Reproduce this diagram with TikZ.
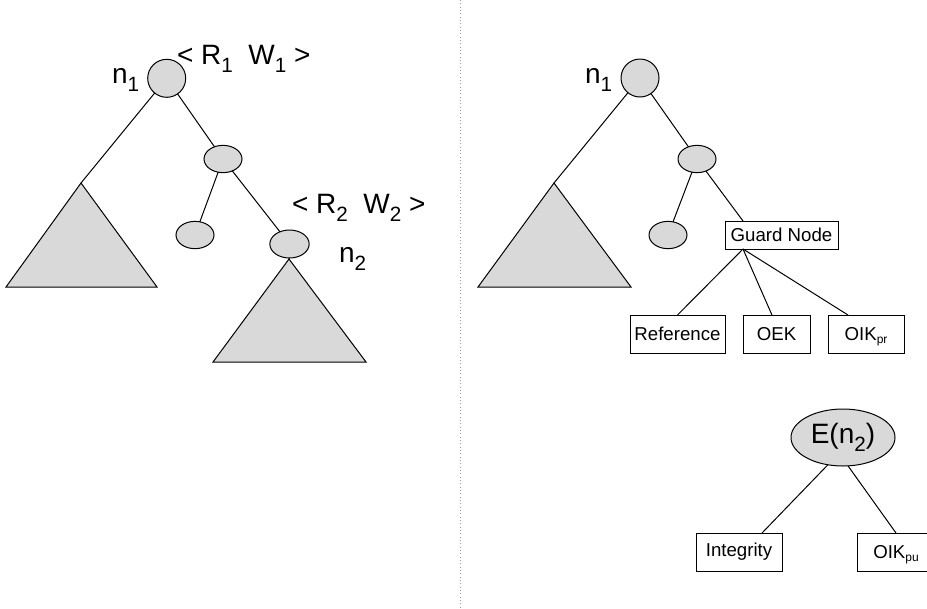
\documentclass[tikz,border=0pt]{standalone}
\usepackage{fontspec}
\setmainfont{Liberation Sans}
\usetikzlibrary{shapes.geometric}
\definecolor{shade}{HTML}{D9D9D9}
\newcommand\bigsub[1]{\raisebox{-6pt}{\fontsize{15.5}{15.5}\selectfont #1}}
\newcommand\tinysub[1]{\raisebox{-2.5pt}[0pt][0pt]{\fontsize{9}{9}\selectfont #1}}
\begin{document}
\begin{tikzpicture}[x=0.75pt,y=-0.75pt,
  every node/.style={inner sep=0pt,outer sep=0pt},
  line/.style={draw=black,line width=0.75pt},
  circ/.style={circle,draw=black,fill=shade,line width=0.75pt,minimum size=28.5pt},
  ell/.style={ellipse,draw=black,fill=shade,line width=0.75pt,minimum width=28.5pt,minimum height=20.5pt},
  tri/.style={draw=black,fill=shade,line width=0.75pt,line join=miter},
  box/.style={rectangle,draw=black,fill=white,line width=0.75pt,font=\fontsize{14}{16}\selectfont},
  bigtext/.style={font=\fontsize{21}{24}\selectfont}]
\useasboundingbox (0,0) rectangle (927,608);
% separator
\coordinate (dtop) at (460,0);
\coordinate (dbot) at (460,608);
\draw[gray!80,dotted,line width=0.5pt] (dtop) -- (dbot);

% ---------- left tree ----------
\draw[tri] (81,183) -- (6,287) -- (157,287) -- cycle;
\draw[tri] (289,259) -- (213,362) -- (366,362) -- cycle;
\coordinate (TA) at (81,183);
\coordinate (TB) at (289,259);
\node[circ] (L1) at (166.7,78.3) {};
\node[ell] (L2) at (223,159) {};
\node[ell] (L3) at (195,235) {};
\node[ell,minimum width=29.5pt,minimum height=21pt] (L4) at (289.5,244) {};
\draw[line] (L1) -- (TA);
\draw[line] (L1) -- (L2);
\draw[line] (L2) -- (L3);
\draw[line] (L2) -- (L4);
\draw[line] (L4) -- (TB);
\node[bigtext,anchor=base west] (ln1) at (112,83) {n\bigsub{1}};
\node[bigtext,anchor=base west] (lrw1) at (177,64) {< R\bigsub{1}\ \ W\bigsub{1} >};
\node[bigtext,anchor=base west] (lrw2) at (292,213) {< R\bigsub{2}\ \ W\bigsub{2} >};
\node[bigtext,anchor=base west] (ln2) at (339,262) {n\bigsub{2}};

% ---------- right tree ----------
\draw[tri] (554,183) -- (478,287) -- (631,287) -- cycle;
\coordinate (TC) at (554,183);
\node[circ] (R1) at (640,78) {};
\node[ell] (R2) at (697,159) {};
\node[ell] (R3) at (668,235) {};
\node[box,minimum width=84.75pt,minimum height=21pt] (G) at (781.5,235) {Guard Node};
\node[box,minimum width=71.25pt,minimum height=28.5pt] (Ref) at (677.5,334) {Reference};
\node[box,minimum width=50.25pt,minimum height=28.5pt] (OEK) at (776.5,334) {OEK};
\node[box,minimum width=57pt,minimum height=28.5pt] (OIKr) at (866,334) {OIK\tinysub{pr}};
\draw[line] (R1) -- (TC);
\draw[line] (R1) -- (R2);
\draw[line] (R2) -- (R3);
\draw[line] (R2) -- ([xshift=13.5pt]G.north west);
\coordinate (gb) at ([xshift=13.5pt]G.south west);
\draw[line] (gb) -- (Ref.north);
\draw[line] (gb) -- ([xshift=-3.4pt]OEK.north);
\draw[line] (gb) -- ([xshift=15pt]OIKr.north west);
\node[bigtext,anchor=base west] (rn1) at (585,83) {n\bigsub{1}};

% ---------- E(n2) ----------
\node[ellipse,draw=black,fill=shade,line width=0.75pt,minimum width=78pt,minimum height=42.75pt,bigtext] (E) at (843,437.5) {E(n\bigsub{2})};
\node[box,minimum width=64.5pt,minimum height=28.5pt] (Int) at (739,552) {Integrity};
\node[box,minimum width=58.5pt,minimum height=28.5pt] (OIKu) at (896,552) {OIK\tinysub{pu}};
\draw[line] (E.241) -- ([xshift=17.25pt]Int.north);
\draw[line] (E.280) -- (OIKu.north);
\end{tikzpicture}
\end{document}
